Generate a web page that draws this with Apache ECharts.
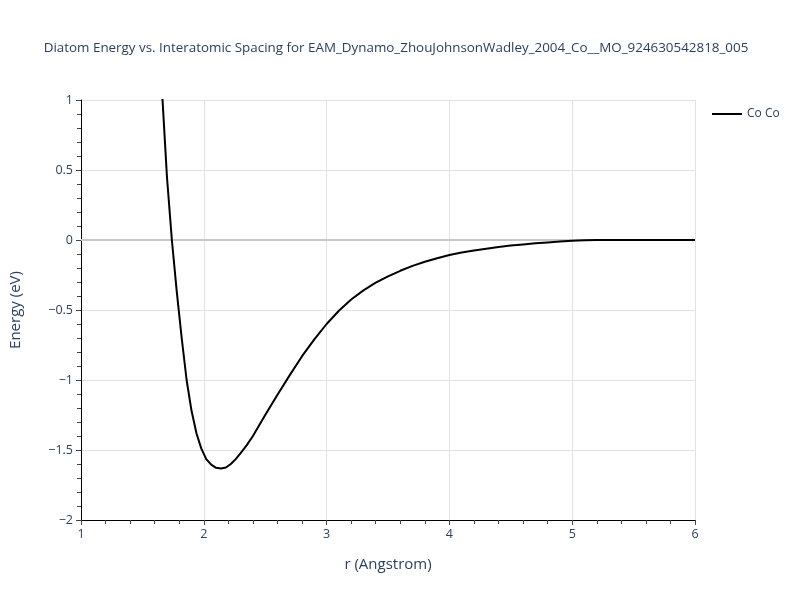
<!DOCTYPE html>
<html><head><meta charset="utf-8">
<script src="https://cdn.jsdelivr.net/npm/echarts@6/dist/echarts.min.js"></script>
<style>html,body{margin:0;padding:0;background:#fff}#c{width:800px;height:600px}</style>
</head><body><div id="c"></div>
<script>
const seriesName = "Co Co";
const rValues = [1.66,1.70,1.74,1.78,1.82,1.86,1.90,1.94,1.98,2.02,2.06,2.10,2.14,2.18,2.22,2.26,2.30,2.35,2.40,2.50,2.60,2.70,2.80,2.90,3.00,3.10,3.20,3.30,3.40,3.50,3.60,3.70,3.80,3.90,4.00,4.10,4.20,4.30,4.40,4.50,4.60,4.70,4.80,4.90,5.00,5.10,5.20,5.40,5.60,5.80,6.00];
const energyValues = [1.06,0.45,0.0,-0.37,-0.70,-1.00,-1.22,-1.38,-1.49,-1.565,-1.605,-1.627,-1.632,-1.625,-1.600,-1.565,-1.522,-1.465,-1.40,-1.25,-1.105,-0.965,-0.83,-0.71,-0.60,-0.505,-0.425,-0.36,-0.305,-0.26,-0.22,-0.185,-0.155,-0.13,-0.107,-0.09,-0.075,-0.062,-0.05,-0.04,-0.032,-0.024,-0.017,-0.01,-0.005,-0.001,0,0,0,0,0];
const xTicks = [1,2,3,4,5,6];
const yTicks = [-2,-1.5,-1,-0.5,0,0.5,1];

const txt = '#2a3f5f';
const font = '"Open Sans", Verdana, sans-serif';
const chart = echarts.init(document.getElementById('c'), null, {renderer:'canvas'});
chart.setOption({
  animation:false,
  backgroundColor:'#fff',
  title:{text:'Diatom Energy vs. Interatomic Spacing for EAM_Dynamo_ZhouJohnsonWadley_2004_Co__MO_924630542818_005',
    left:391, textAlign:'center', top:37,
    textStyle:{color:txt, fontSize:13.4, fontWeight:'normal', fontFamily:font}},
  legend:{left:712, top:108, padding:0, itemWidth:30, itemHeight:2,
    textStyle:{color:txt, fontSize:12, fontFamily:font},
    data:[{name:seriesName, icon:'rect'}]},
  grid:{left:80, right:105, top:100, bottom:80},
  xAxis:{type:'value', min:1, max:6, interval:1,
    name:'r (Angstrom)', nameLocation:'middle', nameGap:37,
    nameTextStyle:{color:txt, fontSize:15, fontFamily:font},
    axisLine:{onZero:false, lineStyle:{color:'#000', width:1}},
    axisTick:{show:true, length:5, lineStyle:{color:'#444'}},
    minorTick:{show:true, splitNumber:5, length:4, lineStyle:{color:'#444'}},
    axisLabel:{color:txt, fontSize:12.5, fontFamily:font, margin:8},
    splitLine:{show:true, lineStyle:{color:'#e2e2e2', width:1}}},
  yAxis:{type:'value', min:-2, max:1, interval:0.5,
    name:'Energy (eV)', nameLocation:'middle', nameGap:58,
    nameTextStyle:{color:txt, fontSize:15, fontFamily:font},
    axisLine:{show:true, lineStyle:{color:'#000', width:1}},
    axisTick:{show:true, length:5, lineStyle:{color:'#444'}},
    minorTick:{show:true, splitNumber:5, length:4, lineStyle:{color:'#444'}},
    axisLabel:{color:txt, fontSize:12.5, fontFamily:font, margin:8,
      formatter:v=>String(v).replace('-','\u2212')},
    splitLine:{show:true, lineStyle:{color:'#e2e2e2', width:1}}},
  series:[{name:seriesName, type:'line', showSymbol:false, symbol:'none',
    clip:true,
    lineStyle:{color:'#000', width:2},
    itemStyle:{color:'#000'},
    data:rValues.map((r,i)=>[r,energyValues[i]]),
    markLine:{silent:true, symbol:'none', label:{show:false},
      lineStyle:{color:'#c8c8c8', width:2, type:'solid'},
      data:[{yAxis:0}], z:1}
  }]
});
</script></body></html>
